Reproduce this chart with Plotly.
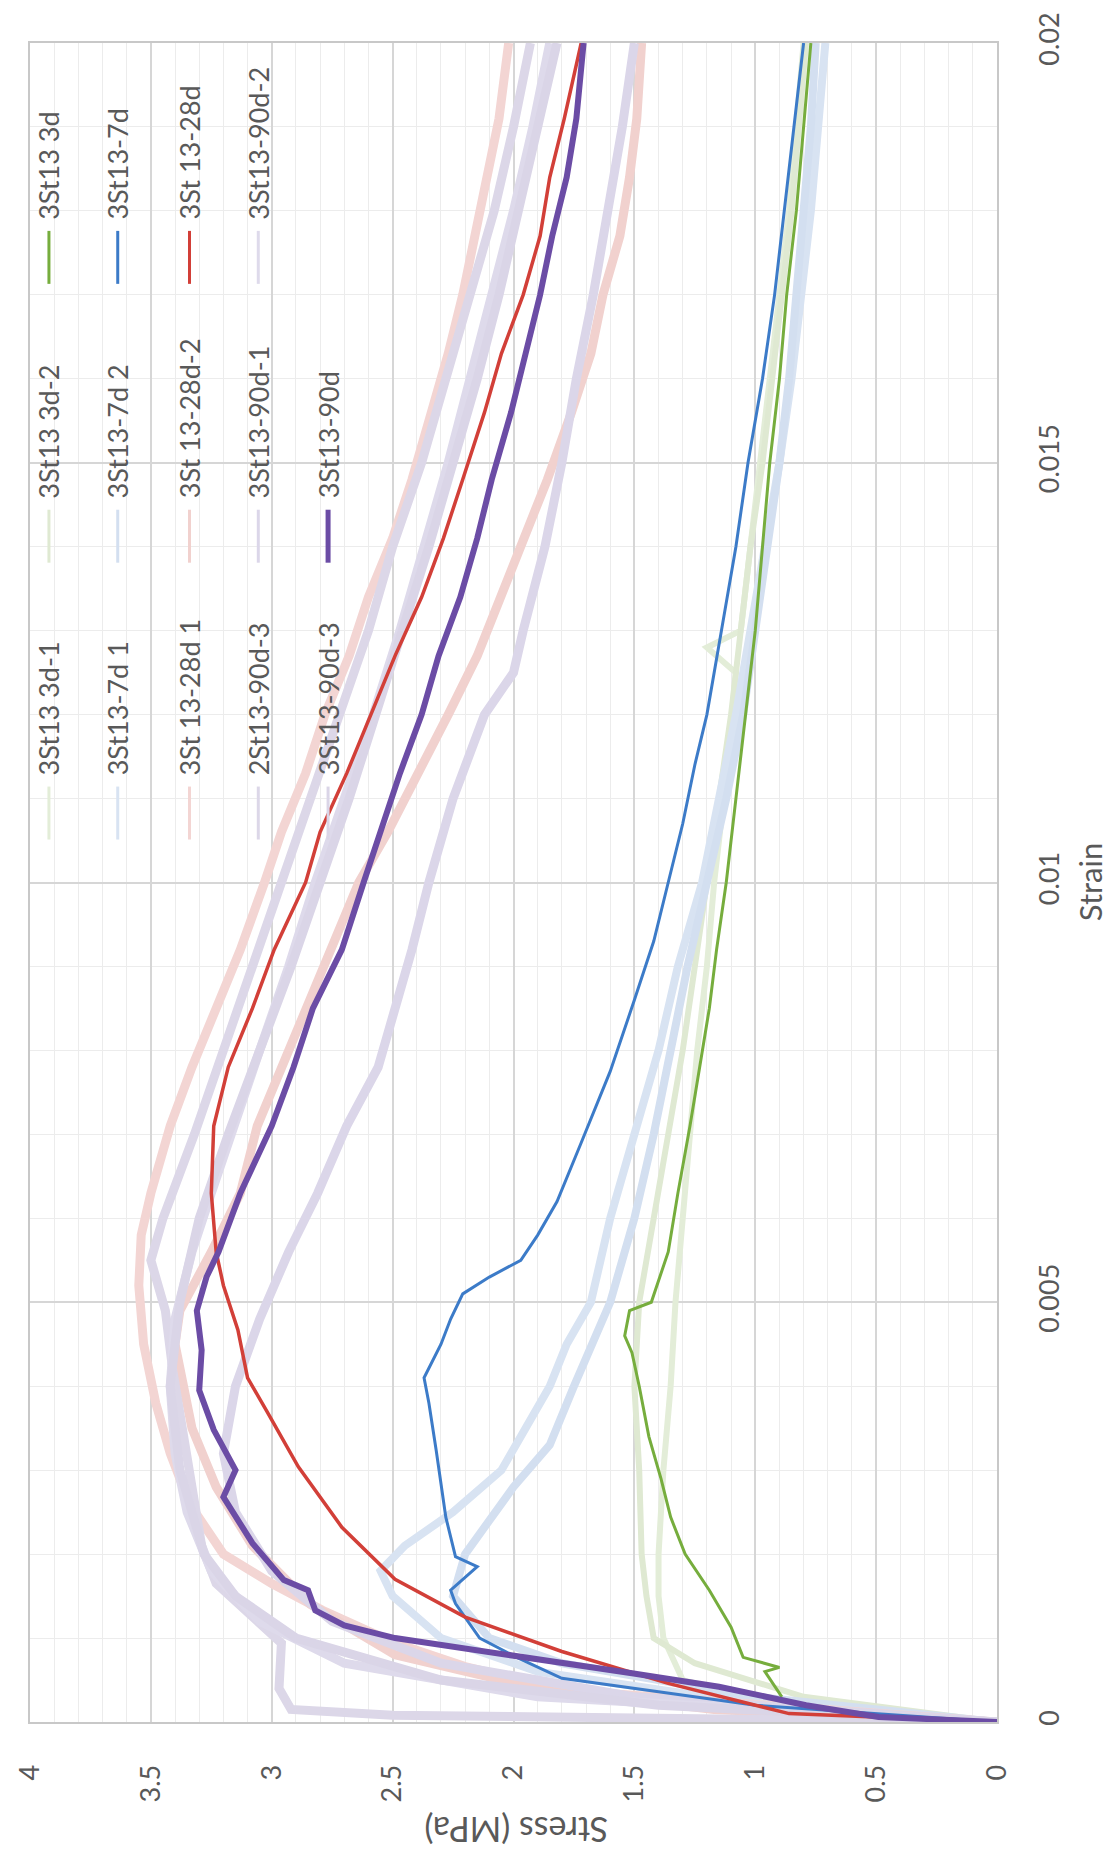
import plotly.graph_objects as go

# ---------------- data (strain, stress) ----------------
# 3St13 3d family
strain_3d_1 = [0, 0.0002, 0.0005, 0.001, 0.0015, 0.002, 0.003, 0.004, 0.005, 0.006, 0.007, 0.008, 0.009, 0.010, 0.011, 0.012, 0.0125, 0.0128, 0.013, 0.014, 0.015, 0.016, 0.017, 0.018, 0.019, 0.020]
stress_3d_1 = [0, 0.9, 1.3, 1.38, 1.40, 1.40, 1.38, 1.35, 1.33, 1.30, 1.27, 1.24, 1.20, 1.17, 1.13, 1.10, 1.08, 1.20, 1.06, 1.02, 0.98, 0.94, 0.90, 0.86, 0.83, 0.80]
strain_3d_2 = [0, 0.0003, 0.0007, 0.001, 0.0015, 0.002, 0.003, 0.004, 0.005, 0.006, 0.007, 0.008, 0.009, 0.010, 0.011, 0.012, 0.013, 0.014, 0.015, 0.016, 0.017, 0.018, 0.019, 0.020]
stress_3d_2 = [0, 0.8, 1.25, 1.42, 1.45, 1.47, 1.48, 1.50, 1.48, 1.42, 1.36, 1.30, 1.25, 1.20, 1.15, 1.10, 1.06, 1.02, 0.97, 0.93, 0.89, 0.85, 0.82, 0.79]
strain_3d = [0.0003, 0.0006, 0.00065, 0.00077, 0.00113, 0.00157, 0.0020, 0.00244, 0.0029, 0.0034, 0.0040, 0.0044, 0.0046, 0.0049, 0.0050, 0.0056, 0.0063, 0.0071, 0.0078, 0.0085, 0.0092, 0.010, 0.011, 0.012, 0.013, 0.014, 0.015, 0.016, 0.017, 0.018, 0.019, 0.020]
stress_3d = [0.89, 0.96, 0.90, 1.05, 1.10, 1.19, 1.29, 1.35, 1.39, 1.44, 1.48, 1.51, 1.54, 1.52, 1.43, 1.36, 1.32, 1.27, 1.23, 1.19, 1.16, 1.12, 1.08, 1.04, 1.00, 0.97, 0.94, 0.90, 0.87, 0.83, 0.80, 0.77]

# 3St13-7d family
strain_7d_1 = [0, 0.0003, 0.0006, 0.001, 0.0015, 0.0018, 0.0021, 0.0025, 0.003, 0.0035, 0.004, 0.0045, 0.005, 0.006, 0.007, 0.008, 0.009, 0.010, 0.011, 0.012, 0.013, 0.014, 0.015, 0.016, 0.017, 0.018, 0.019, 0.020]
stress_7d_1 = [0, 1.2, 1.9, 2.3, 2.5, 2.55, 2.45, 2.25, 2.05, 1.95, 1.85, 1.78, 1.68, 1.60, 1.50, 1.40, 1.32, 1.22, 1.15, 1.08, 1.02, 0.96, 0.90, 0.85, 0.81, 0.77, 0.74, 0.71]
strain_7d_2 = [0, 0.0003, 0.0007, 0.001, 0.0015, 0.002, 0.0028, 0.0033, 0.004, 0.005, 0.006, 0.007, 0.008, 0.009, 0.010, 0.011, 0.012, 0.013, 0.014, 0.015, 0.016, 0.017, 0.018, 0.019, 0.020]
stress_7d_2 = [0, 1.0, 1.8, 2.1, 2.25, 2.2, 2.0, 1.85, 1.75, 1.60, 1.50, 1.42, 1.35, 1.28, 1.20, 1.12, 1.05, 1.00, 0.95, 0.90, 0.86, 0.83, 0.80, 0.77, 0.75]
strain_7d = [0, 0.0002, 0.00052, 0.00076, 0.001, 0.00141, 0.00157, 0.00185, 0.00197, 0.00244, 0.00324, 0.0038, 0.0041, 0.0045, 0.0048, 0.0051, 0.0053, 0.0055, 0.0058, 0.0062, 0.0069, 0.00775, 0.0086, 0.0093, 0.010, 0.0107, 0.0114, 0.012, 0.013, 0.014, 0.015, 0.016, 0.017, 0.018, 0.019, 0.020]
stress_7d = [0, 1.0, 1.80, 1.98, 2.14, 2.24, 2.26, 2.15, 2.24, 2.28, 2.32, 2.35, 2.37, 2.30, 2.26, 2.21, 2.10, 1.97, 1.90, 1.82, 1.72, 1.60, 1.50, 1.42, 1.36, 1.30, 1.25, 1.20, 1.14, 1.08, 1.03, 0.97, 0.92, 0.88, 0.84, 0.80]

# 3St 13-28d family
strain_28d_1 = [0, 0.00038, 0.00066, 0.00094, 0.00133, 0.00165, 0.002, 0.0026, 0.0032, 0.0038, 0.0045, 0.0052, 0.0058, 0.0063, 0.0071, 0.0078, 0.0085, 0.0092, 0.010, 0.0106, 0.0113, 0.012, 0.0127, 0.0134, 0.0141, 0.0148, 0.0156, 0.0163, 0.017, 0.0177, 0.0184, 0.0191, 0.020]
stress_28d_1 = [0, 1.8, 2.2, 2.49, 2.79, 3.0, 3.2, 3.34, 3.42, 3.48, 3.53, 3.55, 3.54, 3.50, 3.42, 3.33, 3.23, 3.13, 3.03, 2.96, 2.86, 2.78, 2.68, 2.60, 2.50, 2.42, 2.34, 2.27, 2.21, 2.16, 2.11, 2.06, 2.02]
strain_28d_2 = [0, 0.00015, 0.0004, 0.0008, 0.0014, 0.0021, 0.0028, 0.0035, 0.0045, 0.0049, 0.0056, 0.0063, 0.0071, 0.0078, 0.0085, 0.0092, 0.010, 0.0106, 0.0113, 0.012, 0.0127, 0.0134, 0.0141, 0.0148, 0.0156, 0.0163, 0.017, 0.0177, 0.0184, 0.0191, 0.020]
stress_28d_2 = [0, 1.17, 1.9, 2.49, 2.84, 3.08, 3.23, 3.33, 3.40, 3.38, 3.25, 3.13, 3.06, 2.96, 2.86, 2.76, 2.64, 2.52, 2.39, 2.27, 2.15, 2.05, 1.95, 1.86, 1.76, 1.68, 1.63, 1.56, 1.52, 1.49, 1.47]
strain_28d = [0, 0.0001, 0.00046, 0.00084, 0.00125, 0.0017, 0.00232, 0.00304, 0.0037, 0.0041, 0.00467, 0.0052, 0.0056, 0.0063, 0.0071, 0.0078, 0.0085, 0.0092, 0.010, 0.0106, 0.0113, 0.012, 0.0127, 0.0134, 0.0141, 0.0148, 0.0156, 0.0163, 0.017, 0.0177, 0.0184, 0.0191, 0.020]
stress_28d = [0, 0.86, 1.36, 1.80, 2.20, 2.49, 2.71, 2.89, 3.02, 3.10, 3.14, 3.20, 3.23, 3.25, 3.24, 3.18, 3.08, 2.99, 2.86, 2.80, 2.69, 2.59, 2.49, 2.38, 2.29, 2.21, 2.12, 2.05, 1.96, 1.89, 1.85, 1.79, 1.72]

# 90d family
strain_90d_3b = [0, 0.00004, 0.00008, 0.00015, 0.0004, 0.00094, 0.0013, 0.00165, 0.0021, 0.0031, 0.0042, 0.0049, 0.0055, 0.006, 0.007, 0.008, 0.009, 0.010, 0.011, 0.012, 0.013, 0.014, 0.015, 0.016, 0.017, 0.018, 0.019, 0.020]
stress_90d_3b = [0, 1.5, 2.5, 2.92, 2.97, 2.96, 3.10, 3.23, 3.29, 3.35, 3.41, 3.44, 3.50, 3.45, 3.32, 3.20, 3.08, 2.96, 2.84, 2.72, 2.60, 2.50, 2.38, 2.28, 2.18, 2.08, 2.00, 1.93]
strain_90d_1 = [0, 0.0003, 0.0007, 0.0012, 0.0018, 0.0025, 0.0032, 0.004, 0.0048, 0.0056, 0.0063, 0.0071, 0.0078, 0.0085, 0.0092, 0.010, 0.011, 0.012, 0.0125, 0.013, 0.014, 0.015, 0.016, 0.017, 0.018, 0.019, 0.020]
stress_90d_1 = [0, 1.5, 2.3, 2.75, 3.0, 3.15, 3.2, 3.15, 3.05, 2.93, 2.81, 2.69, 2.56, 2.49, 2.42, 2.35, 2.25, 2.12, 2.0, 1.96, 1.87, 1.80, 1.74, 1.67, 1.61, 1.55, 1.50]
strain_90d_2 = [0, 0.0003, 0.0007, 0.0012, 0.0018, 0.0025, 0.0032, 0.004, 0.0048, 0.0056, 0.0063, 0.007, 0.008, 0.009, 0.010, 0.011, 0.012, 0.013, 0.014, 0.015, 0.016, 0.017, 0.018, 0.019, 0.020]
stress_90d_2 = [0, 1.9, 2.7, 3.05, 3.25, 3.35, 3.40, 3.42, 3.40, 3.33, 3.25, 3.17, 3.05, 2.93, 2.82, 2.70, 2.58, 2.47, 2.37, 2.27, 2.18, 2.09, 2.00, 1.92, 1.85]
strain_90d_3 = [0, 0.0002, 0.0005, 0.001, 0.0015, 0.002, 0.003, 0.004, 0.005, 0.006, 0.007, 0.008, 0.009, 0.010, 0.011, 0.012, 0.013, 0.014, 0.015, 0.016, 0.017, 0.018, 0.019, 0.020]
stress_90d_3 = [0, 1.4, 2.3, 2.9, 3.15, 3.28, 3.38, 3.42, 3.38, 3.30, 3.18, 3.05, 2.92, 2.80, 2.68, 2.57, 2.46, 2.35, 2.25, 2.15, 2.06, 1.98, 1.90, 1.82]
strain_90d = [0, 0.00006, 0.0002, 0.00042, 0.00058, 0.0007, 0.0010, 0.00115, 0.00133, 0.00157, 0.00169, 0.00213, 0.00268, 0.0030, 0.00348, 0.00395, 0.00443, 0.0049, 0.0053, 0.0056, 0.0063, 0.0071, 0.0078, 0.0085, 0.0092, 0.010, 0.0106, 0.0113, 0.012, 0.0127, 0.0134, 0.0141, 0.0148, 0.0156, 0.0163, 0.017, 0.0177, 0.0184, 0.0191, 0.020]
stress_90d = [0, 0.49, 0.79, 1.15, 1.51, 1.80, 2.49, 2.70, 2.82, 2.85, 2.95, 3.08, 3.20, 3.15, 3.24, 3.30, 3.29, 3.31, 3.27, 3.22, 3.13, 3.00, 2.91, 2.83, 2.71, 2.62, 2.55, 2.47, 2.38, 2.31, 2.22, 2.15, 2.09, 2.01, 1.95, 1.89, 1.84, 1.78, 1.74, 1.71]

stress_ticks = [0, 0.5, 1, 1.5, 2, 2.5, 3, 3.5, 4]
stress_labels = ["0", "0.5", "1", "1.5", "2", "2.5", "3", "3.5", "4"]
strain_ticks = [0, 0.005, 0.01, 0.015, 0.02]
strain_labels = ["0", "0.005", "0.01", "0.015", "0.02"]

# series: (name, strain, stress, color, width, legend column, legend row)
light_series = [
    ("3St13 3d-1", strain_3d_1, stress_3d_1, "#e3edd8", 6, 0, 0),
    ("3St13 3d-2", strain_3d_2, stress_3d_2, "#dfe9d2", 6, 0, 1),
    ("3St13-7d 1", strain_7d_1, stress_7d_1, "#d8e3f2", 8, 1, 0),
    ("3St13-7d 2", strain_7d_2, stress_7d_2, "#d3dff0", 8, 1, 1),
    ("3St 13-28d 1", strain_28d_1, stress_28d_1, "#f3d5d3", 9, 2, 0),
    ("3St 13-28d-2", strain_28d_2, stress_28d_2, "#f1d1ce", 9, 2, 1),
    ("2St13-90d-3", strain_90d_3b, stress_90d_3b, "#dcd7e8", 9, 3, 0),
    ("3St13-90d-1", strain_90d_1, stress_90d_1, "#dbd6e9", 9, 3, 1),
    ("3St13-90d-2", strain_90d_2, stress_90d_2, "#dedaeb", 9, 3, 2),
    ("3St13-90d-3", strain_90d_3, stress_90d_3, "#dad5e7", 9, 4, 0),
]
bold_series = [
    ("3St13 3d", strain_3d, stress_3d, "#76ad3d", 3, 0, 2),
    ("3St13-7d", strain_7d, stress_7d, "#3c7bc8", 3, 1, 2),
    ("3St 13-28d", strain_28d, stress_28d, "#d23f38", 3.5, 2, 2),
    ("3St13-90d", strain_90d, stress_90d, "#6b4ca5", 6, 4, 1),
]

W, H = 1112, 1865
PL, PR, PT, PB = 27, 997, 42, 1722

fig = go.Figure()
for name, st, ss, col, w, c, r in light_series + bold_series:
    fig.add_trace(go.Scatter(x=ss, y=st, mode="lines", name=name,
                             line=dict(color=col, width=w), hoverinfo="skip",
                             showlegend=False))

def xp(px):
    return (px - PL) / (PR - PL)

def yp(py):
    return (PB - py) / (PB - PT)

col_x = [46, 115, 187, 256, 326]
row_bottom = [777, 500, 221]
annotations = []
shapes = []
for name, st, ss, col, w, c, r in light_series + bold_series:
    x = col_x[c]
    yb = row_bottom[r]
    annotations.append(dict(x=xp(x), y=yp(yb), xref="paper", yref="paper",
                            text=name, showarrow=False, textangle=-90,
                            xanchor="center", yanchor="bottom",
                            font=dict(family="Lato", size=27, color="#595959")))
    shapes.append(dict(type="line", xref="paper", yref="paper",
                       x0=xp(x), x1=xp(x), y0=yp(yb + 9), y1=yp(yb + 62),
                       line=dict(color=col, width=5 if name == "3St13-90d" else 3)))

annotations.append(dict(x=xp(514), y=yp(1830), xref="paper", yref="paper",
                        text="Stress (MPa)", showarrow=False, textangle=180,
                        xanchor="center", yanchor="middle",
                        font=dict(family="Lato", size=34, color="#595959")))
annotations.append(dict(x=xp(1090), y=yp(882), xref="paper", yref="paper",
                        text="Strain", showarrow=False, textangle=-90,
                        xanchor="center", yanchor="middle",
                        font=dict(family="Lato", size=31, color="#595959")))

fig.update_layout(
    width=W, height=H,
    margin=dict(l=PL, r=W - PR, t=PT, b=H - PB),
    paper_bgcolor="white", plot_bgcolor="white",
    showlegend=False,
    font=dict(family="Lato", color="#595959"),
    annotations=annotations, shapes=shapes,
)
fig.update_xaxes(range=[4, 0], tickmode="array", tickvals=stress_ticks, ticktext=stress_labels,
                 tickangle=-90, tickfont=dict(size=27, color="#595959"),
                 showgrid=True, gridcolor="#d6d6d6", gridwidth=1.5,
                 minor=dict(tick0=0, dtick=0.1, showgrid=True, gridcolor="#ececec", gridwidth=1),
                 showline=True, linecolor="#c8c8c8", linewidth=2, mirror=True,
                 zeroline=False, ticks="", ticklabelstandoff=30)
fig.update_yaxes(range=[0, 0.02], side="right", tickmode="array", tickvals=strain_ticks, ticktext=strain_labels,
                 tickangle=-90, tickfont=dict(size=27, color="#595959"),
                 showgrid=True, gridcolor="#d6d6d6", gridwidth=1.5,
                 minor=dict(tick0=0, dtick=0.001, showgrid=True, gridcolor="#ececec", gridwidth=1),
                 showline=True, linecolor="#c8c8c8", linewidth=2, mirror=True,
                 zeroline=False, ticks="", ticklabelstandoff=28)

fig.write_html("out.html")
